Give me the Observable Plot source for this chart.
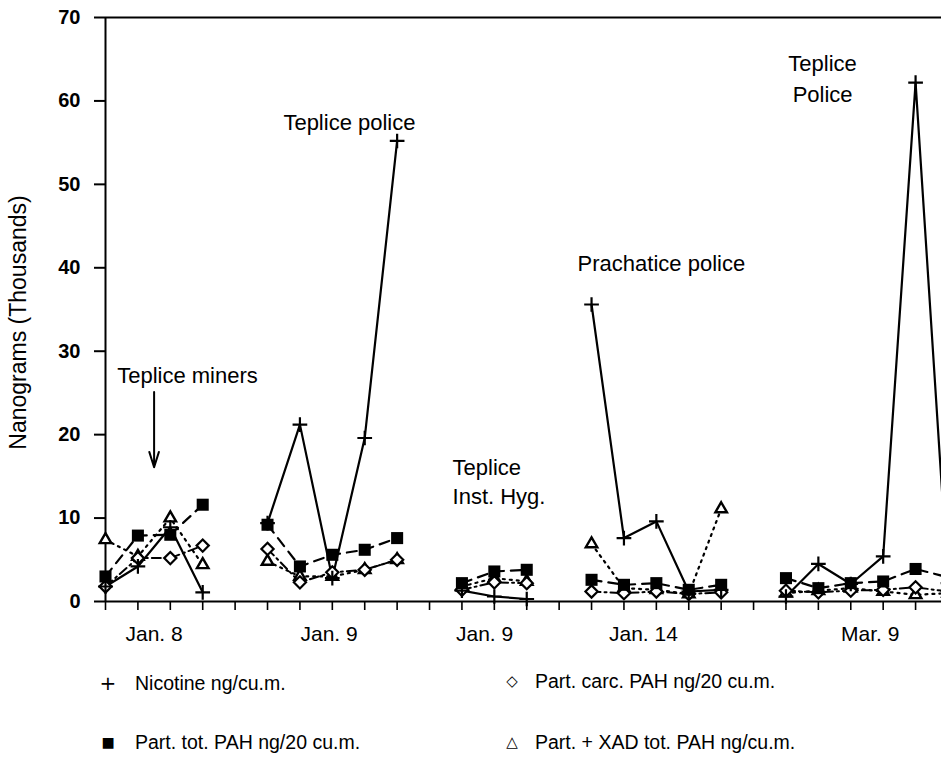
<!DOCTYPE html>
<html>
<head>
<meta charset="utf-8">
<script src="https://cdn.jsdelivr.net/npm/d3@7"></script>
<script src="https://cdn.jsdelivr.net/npm/@observablehq/plot@0.6"></script>
<style>
  html, body { margin: 0; padding: 0; background: #fff; }
  body { font-family: "Liberation Sans", Arial, Helvetica, sans-serif; }
  #wrap { position: relative; width: 941px; height: 764px; overflow: hidden; background: #fff; }
  #chart svg { display: block; }
  .item { position: absolute; display: flex; align-items: center; height: 26px; font-size: 19.5px; color: #000; white-space: nowrap; }
  .sym { display: inline-block; width: 24px; text-align: center; margin-right: 15px; font-family: "DejaVu Sans", sans-serif; }
</style>
</head>
<body>
<div id="wrap">
  <div id="chart"></div>
</div>
<script>
// Sample slots along the x axis (groups separated by empty slots)
const slots = d3.range(0, 27);

// Series values (thousands of nanograms); null = gap between groups
const nicotine = [1.8, 4.2, 8.9, 1.1, null, 9.4, 21.2, 2.8, 19.6, 55.2, null, 1.3, 0.6, 0.3, null, 35.6, 7.6, 9.6, 1.2, 1.4, null, 0.6, 4.5, 2.1, 5.4, 62.2, 2.2];
const totPAH   = [3.0, 7.9, 8.0, 11.6, null, 9.2, 4.2, 5.6, 6.2, 7.6, null, 2.2, 3.6, 3.8, null, 2.6, 2.0, 2.2, 1.4, 2.0, null, 2.8, 1.6, 2.2, 2.4, 3.9, 2.9];
const carcPAH  = [1.8, 5.2, 5.2, 6.7, null, 6.3, 2.3, 3.5, 3.8, 5.0, null, 1.4, 2.3, 2.2, null, 1.2, 1.0, 1.2, 0.9, 1.1, null, 1.3, 1.1, 1.3, 1.4, 1.7, 1.2];
const xadPAH   = [7.4, 5.4, 10.0, 4.4, null, 4.8, 3.0, 3.0, 3.8, 5.0, null, 1.8, 2.8, 2.4, null, 6.9, 1.6, 1.4, 0.9, 11.1, null, 1.0, 1.3, 1.6, 1.2, 0.8, 1.0];

// Axis ticks and labels
const yTicks = [0, 10, 20, 30, 40, 50, 60, 70];
const xTickSlots = d3.range(0, 26);
const xLabels = ["Jan. 8", "Jan. 9", "Jan. 9", "Jan. 14", "Mar. 9"];
const xLabelPos = [1.5, 6.9, 11.7, 16.6, 23.6];

// Annotations (left-aligned and centred groups)
const annStartText = ["Teplice police", "Teplice", "Inst. Hyg.", "Prachatice police"];
const annStartX    = [5.49, 10.71, 10.71, 14.57];
const annStartY    = [57.4, 16.0, 12.5, 40.4];
const annMidText   = ["Teplice miners", "Teplice", "Police"];
const annMidX      = [2.53, 22.13, 22.13];
const annMidY      = [27.0, 64.4, 60.7];
const arrowX = [1.5], arrowY1 = [25.1], arrowY2 = [16.1];

const yTitle = "Nanograms (Thousands)";
const legendItems = [
  ["+", "Nicotine ng/cu.m."],
  ["■", "Part. tot. PAH ng/20 cu.m."],
  ["◇", "Part. carc. PAH ng/20 cu.m."],
  ["△", "Part. + XAD tot. PAH ng/cu.m."]
];

const font = "Liberation Sans, Arial, Helvetica, sans-serif";

const plot = Plot.plot({
  width: 941,
  height: 665,
  marginLeft: 105,
  marginRight: 0,
  marginTop: 17,
  marginBottom: 64,
  style: { fontFamily: font, color: "#000", background: "#fff", overflow: "visible" },
  x: { type: "linear", domain: [0, 25.8], axis: null },
  y: { domain: [0, 70], axis: null },
  marks: [
    // frame lines
    Plot.ruleY([70], { stroke: "#000", strokeWidth: 2 }),
    Plot.ruleX([0], { stroke: "#000", strokeWidth: 2 }),
    Plot.ruleY([0], { stroke: "#000", strokeWidth: 2 }),
    // axes
    Plot.axisY({ ticks: yTicks, tickSize: 11, tickPadding: 14, strokeWidth: 2, fontSize: 20, fontWeight: "bold", label: null }),
    Plot.axisX({ ticks: xTickSlots, tickSize: 9, strokeWidth: 1.6, tickFormat: () => "", label: null }),
    Plot.text(xLabels, { x: xLabelPos, frameAnchor: "bottom", dy: 39, fontSize: 21 }),
    Plot.text([yTitle], { frameAnchor: "left", textAnchor: "middle", rotate: -90, dx: -87, dy: 13, fontSize: 23 }),
    // series lines
    Plot.line(slots, { x: slots, y: xadPAH, stroke: "#000", strokeWidth: 2.2, strokeDasharray: "2,5" }),
    Plot.line(slots, { x: slots, y: carcPAH, stroke: "#000", strokeWidth: 2, strokeDasharray: "9,4,2,4" }),
    Plot.line(slots, { x: slots, y: nicotine, stroke: "#000", strokeWidth: 2.2 }),
    Plot.line(slots, { x: slots, y: totPAH, stroke: "#000", strokeWidth: 2.2, strokeDasharray: "10,7" }),
    // markers
    Plot.dot(slots, { x: slots, y: xadPAH, symbol: "triangle2", r: 5.5, stroke: "#000", strokeWidth: 2.4, fill: "#fff" }),
    Plot.dot(slots, { x: slots, y: carcPAH, symbol: "diamond2", r: 5.5, stroke: "#000", strokeWidth: 2.2, fill: "#fff" }),
    Plot.dot(slots, { x: slots, y: nicotine, symbol: "plus", r: 4.8, stroke: "#000", strokeWidth: 2.2 }),
    Plot.dot(slots, { x: slots, y: totPAH, symbol: "square", r: 6.8, fill: "#000", stroke: "none" }),
    // annotations
    Plot.text(annStartText, { x: annStartX, y: annStartY, textAnchor: "start", fontSize: 22 }),
    Plot.text(annMidText, { x: annMidX, y: annMidY, textAnchor: "middle", fontSize: 22 }),
    Plot.arrow(arrowX, { x1: arrowX, x2: arrowX, y1: arrowY1, y2: arrowY2, stroke: "#000", strokeWidth: 2, headLength: 12, headAngle: 35 })
  ]
});
document.getElementById("chart").appendChild(plot);

// Legend below the chart
const wrap = document.getElementById("wrap");
const legendLeft = [96, 96, 500, 500];
const legendTop = [670, 729, 668, 729];
legendItems.forEach(([s, t], i) => {
  const div = document.createElement("div");
  div.className = "item";
  div.style.left = legendLeft[i] + "px";
  div.style.top = legendTop[i] + "px";
  const sp = document.createElement("span");
  sp.className = "sym";
  sp.textContent = s;
  sp.style.fontSize = (s === "+" ? 20 : s === "■" ? 14 : 15) + "px";
  if (i >= 2) sp.style.marginRight = "11px";
  const tx = document.createElement("span");
  tx.textContent = t;
  div.appendChild(sp);
  div.appendChild(tx);
  wrap.appendChild(div);
});
</script>
</body>
</html>
